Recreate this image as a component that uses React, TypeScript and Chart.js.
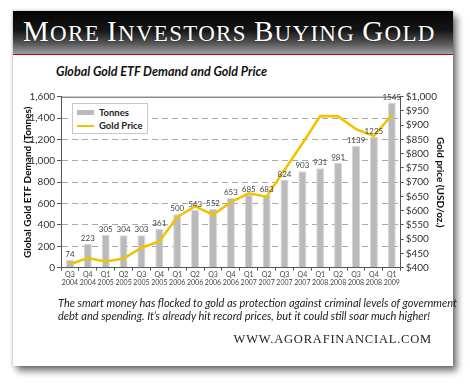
import React, { useEffect, useRef } from "react";
import { Chart, registerables } from "chart.js";

Chart.register(...registerables);

const quarters = ["Q3", "Q4", "Q1", "Q2", "Q3", "Q4", "Q1", "Q2", "Q3", "Q4", "Q1", "Q2", "Q3", "Q4", "Q1", "Q2", "Q3", "Q4", "Q1"];
const years = ["2004", "2004", "2005", "2005", "2005", "2005", "2006", "2006", "2006", "2006", "2007", "2007", "2007", "2007", "2008", "2008", "2008", "2008", "2009"];
const tonnes = [74, 223, 305, 304, 303, 361, 500, 543, 552, 653, 685, 683, 824, 903, 931, 981, 1139, 1225, 1545];
const goldPrice = [412, 434, 422, 432, 470, 492, 578, 615, 586, 630, 661, 649, 743, 836, 932, 931, 886, 862, 936];

const SANS = "Lato, 'Noto Sans', sans-serif";
const SERIF = "'Liberation Serif', 'DejaVu Serif', serif";
const GOLD = "#f2c200";
const BAR = "#bababa";

const barLabels = {
  id: "barLabels",
  afterDatasetsDraw(chart: any) {
    const meta = chart.getDatasetMeta(0);
    const data = chart.data.datasets[0].data;
    const ctx = chart.ctx;
    ctx.save();
    ctx.font = "8px " + SANS;
    ctx.fillStyle = "#444";
    ctx.textAlign = "center";
    ctx.textBaseline = "bottom";
    meta.data.forEach((bar: any, i: number) => {
      ctx.fillText(String(data[i]), bar.x, bar.y - 1.5);
    });
    ctx.restore();
  },
};

const topBorder = {
  id: "topBorder",
  beforeDatasetsDraw(chart: any) {
    const { left, right, top } = chart.chartArea;
    const ctx = chart.ctx;
    ctx.save();
    ctx.strokeStyle = "#555";
    ctx.lineWidth = 1;
    ctx.beginPath();
    ctx.moveTo(left, top + 0.5);
    ctx.lineTo(right, top + 0.5);
    ctx.stroke();
    ctx.restore();
  },
};

function GoldChart() {
  const ref = useRef<HTMLCanvasElement | null>(null);
  useEffect(() => {
    let chart: Chart | null = null;
    let cancelled = false;
    const make = () => {
      if (cancelled || !ref.current) return;
      chart = new Chart(ref.current, {
        type: "bar",
        data: {
          labels: quarters.map((q, i) => [q, years[i]]),
          datasets: [
            {
              type: "bar",
              label: "Tonnes",
              data: tonnes,
              backgroundColor: BAR,
              borderColor: "#d8d8d8",
              borderWidth: 1,
              barPercentage: 0.9,
              categoryPercentage: 0.5,
              yAxisID: "y",
              order: 1,
            },
            {
              type: "line",
              label: "Gold Price",
              data: goldPrice,
              borderColor: GOLD,
              borderWidth: 2.5,
              pointRadius: 0,
              tension: 0,
              yAxisID: "y1",
              order: 0,
            },
          ] as any,
        },
        options: {
          animation: false,
          responsive: false,
          maintainAspectRatio: false,
          layout: { padding: { top: 36.7, left: 0, right: 0, bottom: 0 } },
          plugins: {
            legend: { display: false },
            tooltip: { enabled: false },
            title: { display: false },
          },
          scales: {
            x: {
              offset: true,
              grid: {
                offset: true,
                drawOnChartArea: false,
                tickLength: 3,
                tickColor: "#555",
              },
              border: { color: "#555", width: 1 },
              ticks: {
                autoSkip: false,
                maxRotation: 0,
                minRotation: 0,
                padding: 0,
                color: "#444",
                font: { family: SANS, size: 7, lineHeight: 1.1 },
              },
              afterFit(scale: any) {
                scale.height = 32.3;
              },
            },
            y: {
              position: "left",
              min: 0,
              max: 1600,
              ticks: {
                stepSize: 200,
                autoSkip: false,
                padding: 2,
                color: "#333",
                font: { family: SANS, size: 10 },
                callback: (v: any) => Number(v).toLocaleString("en-US"),
              },
              grid: {
                color: (c: any) =>
                  c.tick && (c.tick.value === 0 || c.tick.value === 1600) ? "rgba(0,0,0,0)" : "#a8a8a8",
                lineWidth: 1,
                tickLength: 4,
                tickColor: "#555",
                tickBorderDash: [],
              },
              border: { color: "#555", width: 1, dash: [6, 4] },
              title: {
                display: true,
                text: "Global Gold ETF Demand (Tonnes)",
                color: "#111",
                font: { family: SANS, size: 10, weight: "bold" },
                padding: { top: 21.5, bottom: 0 },
              },
              afterFit(scale: any) {
                scale.width = 61;
              },
            },
            y1: {
              position: "right",
              min: 400,
              max: 1000,
              ticks: {
                stepSize: 50,
                autoSkip: false,
                padding: 2,
                color: "#333",
                font: { family: SANS, size: 10 },
                callback: (v: any) => "$" + Number(v).toLocaleString("en-US"),
              },
              grid: {
                drawOnChartArea: false,
                tickLength: 3,
                tickColor: "#555",
              },
              border: { color: "#555", width: 1 },
              title: {
                display: true,
                text: "Gold price (USD/oz.)",
                color: "#111",
                font: { family: SANS, size: 10, weight: "bold" },
                padding: { top: 24, bottom: 0 },
              },
              afterFit(scale: any) {
                scale.width = 69.3;
              },
            },
          },
        } as any,
        plugins: [topBorder, barLabels],
      });
    };
    const fonts = (document as any).fonts;
    if (fonts && fonts.load) {
      Promise.all([
        fonts.load("10px Lato"),
        fonts.load("bold 10px Lato"),
      ]).then(make, make);
    } else {
      make();
    }
    return () => {
      cancelled = true;
      if (chart) chart.destroy();
    };
  }, []);
  return (
    <canvas
      ref={ref}
      width={470}
      height={240}
      style={{ position: "absolute", left: 0, top: 60, width: 470, height: 240 }}
    />
  );
}

export default function App() {
  const big = { fontSize: 29 };
  const small = { fontSize: 23 };
  return (
    <div
      style={{
        position: "absolute",
        left: 0,
        top: 0,
        width: 470,
        height: 386,
        background: "#fff",
        overflow: "hidden",
        fontFamily: SANS,
      }}
    >
      {/* card */}
      <div
        style={{
          position: "absolute",
          left: 13,
          top: 11,
          width: 440,
          height: 355,
          background: "#fff",
          boxShadow: "4px 5px 7px rgba(0,0,0,0.55), 0 0 3px rgba(0,0,0,0.25)",
        }}
      />
      {/* banner */}
      <div
        style={{
          position: "absolute",
          left: 13,
          top: 11,
          width: 440,
          height: 43,
          background: "linear-gradient(to bottom, #050505 0%, #151515 45%, #555 75%, #a0a0a0 100%)",
          borderBottom: "1.5px solid #c00000",
        }}
      />
      <div
        style={{
          position: "absolute",
          left: 23,
          top: 14,
          width: 430,
          height: 34,
          lineHeight: "34px",
          color: "#fff",
          fontFamily: SERIF,
          whiteSpace: "nowrap",
          letterSpacing: 1.3,
          textShadow: "0 0 2px rgba(0,0,0,0.6)",
        }}
      >
        <span style={big}>M</span>
        <span style={small}>ORE </span>
        <span style={big}>I</span>
        <span style={small}>NVESTORS </span>
        <span style={big}>B</span>
        <span style={small}>UYING </span>
        <span style={big}>G</span>
        <span style={small}>OLD</span>
      </div>

      {/* chart title */}
      <div
        style={{
          position: "absolute",
          left: 56,
          top: 64,
          fontSize: 12.5,
          lineHeight: "16px",
          fontWeight: "bold",
          fontStyle: "italic",
          color: "#111",
          whiteSpace: "nowrap",
        }}
      >
        Global Gold ETF Demand and Gold Price
      </div>

      <GoldChart />

      {/* legend */}
      <div
        style={{
          position: "absolute",
          left: 72,
          top: 103,
          width: 74,
          height: 29,
          border: "1px solid #c8c8c8",
          background: "#fff",
        }}
      >
        <div style={{ position: "absolute", left: 4, top: 6, width: 17, height: 5, background: BAR }} />
        <div
          style={{
            position: "absolute",
            left: 26,
            top: 2,
            fontSize: 9.5,
            lineHeight: "14px",
            fontWeight: "bold",
            color: "#222",
            whiteSpace: "nowrap",
          }}
        >
          Tonnes
        </div>
        <div style={{ position: "absolute", left: 4, top: 20.5, width: 17, height: 2, background: GOLD }} />
        <div
          style={{
            position: "absolute",
            left: 26,
            top: 14.5,
            fontSize: 9.5,
            lineHeight: "14px",
            fontWeight: "bold",
            color: "#222",
            whiteSpace: "nowrap",
          }}
        >
          Gold Price
        </div>
      </div>

      {/* caption */}
      <div
        style={{
          position: "absolute",
          left: 58,
          top: 295.5,
          fontSize: 11,
          lineHeight: "13px",
          fontStyle: "italic",
          color: "#222",
          whiteSpace: "nowrap",
        }}
      >
        The smart money has flocked to gold as protection against criminal levels of government
        <br />
        debt and spending. It’s already hit record prices, but it could still soar much higher!
      </div>

      {/* url */}
      <div
        style={{
          position: "absolute",
          right: 470 - 432,
          top: 331,
          fontSize: 12.5,
          lineHeight: "16px",
          letterSpacing: 0.8,
          fontFamily: SERIF,
          color: "#222",
          whiteSpace: "nowrap",
        }}
      >
        WWW.AGORAFINANCIAL.COM
      </div>
    </div>
  );
}
